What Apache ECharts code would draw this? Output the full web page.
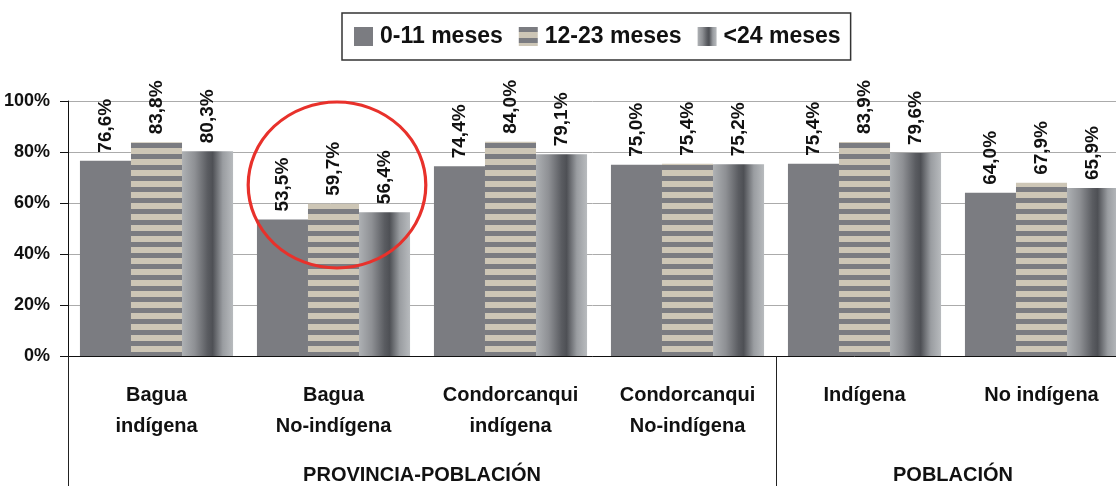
<!DOCTYPE html>
<html>
<head>
<meta charset="utf-8">
<script src="https://cdn.jsdelivr.net/npm/echarts@6/dist/echarts.min.js"></script>
<style>
  html, body { margin: 0; padding: 0; background: #fff; }
  #chart { width: 1116px; height: 486px; }
</style>
</head>
<body>
<div id="chart"></div>
<script>
var categories = ['Bagua\nindígena', 'Bagua\nNo-indígena', 'Condorcanqui\nindígena', 'Condorcanqui\nNo-indígena', 'Indígena', 'No indígena'];
var seriesNames = ['0-11 meses', '12-23 meses', '<24 meses'];
var meses0a11 = [76.6, 53.5, 74.4, 75.0, 75.4, 64.0];
var meses12a23 = [83.8, 59.7, 84.0, 75.4, 83.9, 67.9];
var menos24 = [80.3, 56.4, 79.1, 75.2, 79.6, 65.9];
// grupos del segundo nivel: [nombre, primera categoria, ultima categoria]
var groups = [['PROVINCIA-POBLACIÓN', 0, 3], ['POBLACIÓN', 4, 5]];

var FONT = '"Liberation Sans", Arial, sans-serif';
var GRIS = '#7b7c81';

// rayas horizontales para la serie 12-23
var rayas = document.createElement('canvas');
rayas.width = 8;
rayas.height = 11;
var ctx = rayas.getContext('2d');
ctx.fillStyle = GRIS;
ctx.fillRect(0, 0, 8, 11);
ctx.fillStyle = '#cdc6b6';
ctx.fillRect(0, 5, 8, 6);

var degradado = new echarts.graphic.LinearGradient(0, 0, 1, 0, [
  { offset: 0, color: '#aeb1b4' },
  { offset: 0.25, color: '#8e9094' },
  { offset: 0.5, color: '#5a5c61' },
  { offset: 0.6, color: '#4e5055' },
  { offset: 0.8, color: '#9a9da1' },
  { offset: 1, color: '#b8bbbe' }
]);

function etiqueta (p) {
  return p.value.toFixed(1).replace('.', ',') + '%';
}

function serie (name, data, color) {
  return {
    name: name,
    type: 'bar',
    data: data,
    barGap: 0,
    barCategoryGap: '13.5%',
    itemStyle: { color: color },
    label: {
      show: true,
      position: 'top',
      rotate: 90,
      align: 'left',
      verticalAlign: 'middle',
      distance: 8,
      formatter: etiqueta,
      color: '#111',
      fontFamily: FONT,
      fontWeight: 'bold',
      fontSize: 19
    }
  };
}

var chart = echarts.init(document.getElementById('chart'));

var options = {
  animation: false,
  grid: { left: 68, top: 101, height: 255, width: 1062, outerBoundsMode: 'none' },
  legend: {
    data: seriesNames,
    left: 342,
    top: 13,
    padding: [12, 10, 12, 12],
    borderColor: '#333',
    borderWidth: 1.5,
    itemWidth: 19,
    itemHeight: 19,
    itemGap: 16,
    icon: 'rect',
    textStyle: { color: '#111', fontFamily: FONT, fontWeight: 'bold', fontSize: 23, padding: [0, 0, 0, 2] }
  },
  xAxis: [
    {
      type: 'category',
      data: categories,
      axisLine: { lineStyle: { color: '#111', width: 1 } },
      axisTick: { length: 84, lineStyle: { color: '#222' } },
      axisLabel: {
        color: '#111',
        fontFamily: FONT,
        fontWeight: 'bold',
        fontSize: 20,
        lineHeight: 31,
        margin: 24,
        interval: 0
      }
    },
    {
      type: 'value',
      min: 0,
      max: categories.length,
      interval: 1,
      position: 'bottom',
      axisLine: { show: false },
      axisTick: { show: false },
      splitLine: { show: false },
      axisLabel: {
        margin: 109,
        color: '#111',
        fontFamily: FONT,
        fontWeight: 'bold',
        fontSize: 20,
        formatter: function (v) {
          var g = groups.filter(function (g) { return (g[1] + g[2] + 1) / 2 === v; });
          return g.length ? g[0][0] : '';
        }
      }
    },
    {
      type: 'value',
      min: 0,
      max: categories.length,
      interval: groups[1][1],
      position: 'bottom',
      axisLine: { show: false },
      axisTick: { length: 132, lineStyle: { color: '#222' } },
      splitLine: { show: false },
      axisLabel: { show: false }
    }
  ],
  yAxis: {
    type: 'value',
    min: 0,
    max: 100,
    interval: 20,
    axisLine: { show: true, lineStyle: { color: '#111' } },
    axisTick: { show: true, length: 8, lineStyle: { color: '#111' } },
    splitLine: { lineStyle: { color: '#ababab' } },
    axisLabel: {
      formatter: '{value}%',
      margin: 18,
      color: '#111',
      fontFamily: FONT,
      fontWeight: 'bold',
      fontSize: 18
    }
  },
  series: [
    serie(seriesNames[0], meses0a11, GRIS),
    serie(seriesNames[1], meses12a23, { image: rayas, repeat: 'repeat' }),
    serie(seriesNames[2], menos24, degradado)
  ],
  graphic: [
    {
      type: 'circle',
      x: 337,
      y: 185,
      scaleX: 1.07,
      shape: { cx: 0, cy: 0, r: 83 },
      style: { fill: 'none', stroke: '#e8312b', lineWidth: 3 },
      z: 100
    }
  ]
};

chart.setOption(options);
</script>
</body>
</html>
